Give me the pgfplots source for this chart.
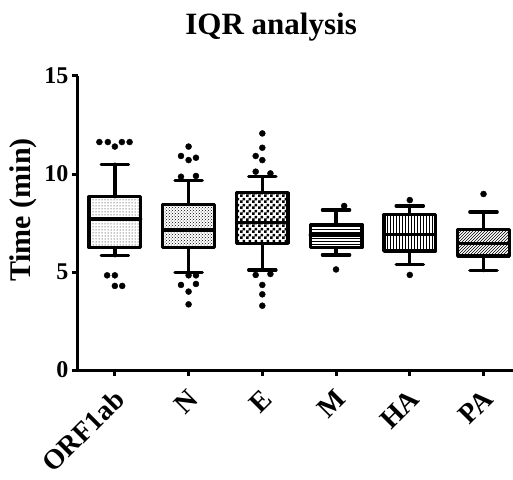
\documentclass[border=0pt]{standalone}
\usepackage{fontspec}
\setmainfont{Liberation Serif}
\usepackage{pgfplots}
\pgfplotsset{compat=1.18}
\usepgfplotslibrary{statistics}
\usetikzlibrary{patterns}

% smaller checkerboard than the tikz one
\pgfdeclarepatternformonly{finechecker}{\pgfpointorigin}{\pgfpoint{6pt}{6pt}}{\pgfpoint{6pt}{6pt}}{
  \pgfpathrectangle{\pgfpointorigin}{\pgfpoint{3pt}{3pt}}
  \pgfpathrectangle{\pgfpoint{3pt}{3pt}}{\pgfpoint{3pt}{3pt}}
  \pgfusepath{fill}}

\pgfplotsset{
  iqrbox/.style={black, solid, mark=none, line width=3.3pt, line cap=round, line join=round,
    boxplot/draw direction=y, boxplot/box extend=0.7, boxplot/whisker extend=0.37},
}

\begin{document}
\begin{tikzpicture}
\path[use as bounding box] (-78pt,-109pt) rectangle (435pt,370pt);
\begin{axis}[
  at={(0,0)}, anchor=south west,
  scale only axis, width=435pt, height=294pt,
  xmin=0.5, xmax=6.4, ymin=0, ymax=15,
  axis x line=bottom, axis y line=left,
  axis line style={-, line width=3pt},
  every outer x axis line/.append style={-},
  every outer y axis line/.append style={-},
  clip=false,
  xtick={1,2,3,4,5,6},
  xticklabels={ORF1ab,N,E,M,HA,PA},
  ytick={0,5,10,15},
  tick align=outside, major tick length=6pt,
  tick style={black, line width=3pt},
  /pgf/number format/assume math mode=true,
  ticklabel style={font=\fontsize{24}{24}\selectfont\bfseries},
  xticklabel style={font=\fontsize{28}{28}\selectfont\bfseries, xshift=7pt, yshift=-16pt, rotate=45, anchor=east},
  title={IQR analysis},
  title style={font=\fontsize{31}{31}\selectfont\bfseries, at={(axis description cs:0.444,1.12)}, anchor=base},
  ylabel={Time (min)},
  ylabel style={font=\fontsize{30}{30}\selectfont\bfseries, at={(axis description cs:-0.125,0.544)}, anchor=center},
]
% ORF1ab
\addplot[iqrbox, boxplot/every box/.append style={pattern=dots},
  boxplot prepared={draw position=1, lower whisker=5.83, lower quartile=6.24,
    median=7.7, upper quartile=8.84, upper whisker=10.5}] coordinates {};
% N
\addplot[iqrbox, boxplot/every box/.append style={pattern=crosshatch dots},
  boxplot prepared={draw position=2, lower whisker=4.98, lower quartile=6.24,
    median=7.14, upper quartile=8.45, upper whisker=9.66}] coordinates {};
% E
\addplot[iqrbox, boxplot/every box/.append style={pattern=finechecker},
  boxplot prepared={draw position=3, lower whisker=5.1, lower quartile=6.46,
    median=7.53, upper quartile=9.05, upper whisker=9.86}] coordinates {};
% M
\addplot[iqrbox, boxplot/every box/.append style={pattern=horizontal lines},
  boxplot prepared={draw position=4, lower whisker=5.87, lower quartile=6.24,
    median=6.89, upper quartile=7.43, upper whisker=8.16}] coordinates {};
% HA
\addplot[iqrbox, boxplot/every box/.append style={pattern=vertical lines},
  boxplot prepared={draw position=5, lower whisker=5.39, lower quartile=6.07,
    median=6.92, upper quartile=7.94, upper whisker=8.37}] coordinates {};
% PA
\addplot[iqrbox, boxplot/every box/.append style={pattern=north east lines},
  boxplot prepared={draw position=6, lower whisker=5.07, lower quartile=5.82,
    median=6.46, upper quartile=7.18, upper whisker=8.06}] coordinates {};

% outliers
\addplot[only marks, mark=*, mark size=3pt, black] coordinates {
  (0.79,11.63) (0.905,11.63) (1.0,11.4) (1.095,11.63) (1.2,11.63)
  (0.895,4.83) (1.0,4.83) (1.0,4.29) (1.1,4.29)
  (1.897,10.92) (2.0,11.4) (2.0,10.71) (2.1,10.83) (1.897,9.86) (2.1,9.9)
  (2.0,4.83) (2.1,4.83) (1.897,4.34) (2.1,4.39) (2.0,4.0) (2.0,3.35)
  (3.0,12.07) (3.0,11.34) (2.91,10.92) (3.0,10.71) (2.91,10.12) (3.11,10.03)
  (2.91,4.85) (3.11,4.9) (3.0,4.34) (3.0,3.86) (3.0,3.28)
  (4.11,8.37) (4.0,5.13)
  (5.0,8.67) (5.0,4.85)
  (6.0,8.98)
};
\end{axis}
\end{tikzpicture}
\end{document}
